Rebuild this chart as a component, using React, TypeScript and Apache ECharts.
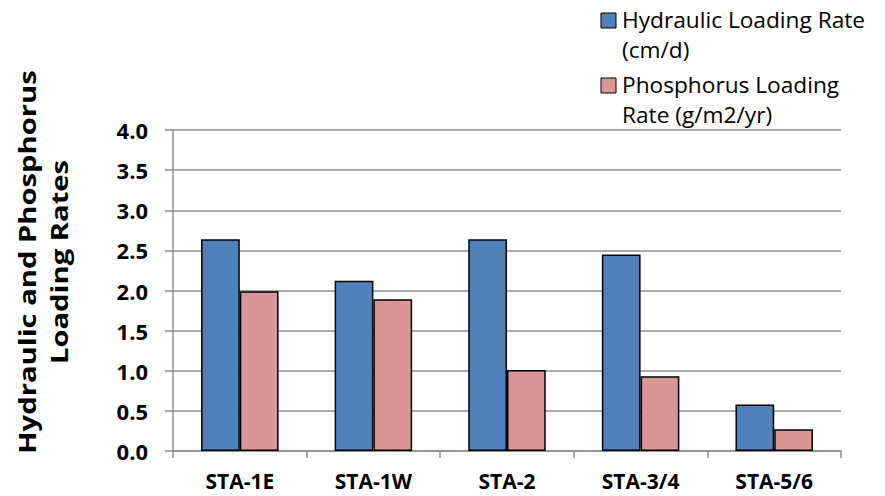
import React, { useEffect, useRef } from "react";
import * as echarts from "echarts";

const categories = ["STA-1E", "STA-1W", "STA-2", "STA-3/4", "STA-5/6"];
const hydraulic = [2.64, 2.12, 2.64, 2.45, 0.58];
const phosphorus = [1.99, 1.89, 1.01, 0.93, 0.27];
const seriesNames = ["Hydraulic Loading Rate\n(cm/d)", "Phosphorus Loading\nRate (g/m2/yr)"];
const yTitle = "Hydraulic and Phosphorus\nLoading Rates";

const BLUE = "#4F81BD";
const PINK = "#D99694";
const GRID = "#8c8c8c";
const FONT = "'Open Sans', sans-serif";

export default function App() {
  const ref = useRef<HTMLDivElement>(null);
  useEffect(() => {
    const chart = echarts.init(ref.current!, null, { renderer: "svg" });
    chart.setOption({
      animation: false,
      backgroundColor: "#ffffff",
      grid: { left: 173, right: 44, top: 130, bottom: 45, containLabel: false },
      xAxis: {
        type: "category",
        data: categories,
        axisLine: { show: true, lineStyle: { color: GRID, width: 1.5 } },
        axisTick: { show: true, length: 7, lineStyle: { color: GRID, width: 1.5 } },
        axisLabel: {
          margin: 22,
          color: "#000",
          fontFamily: FONT,
          fontWeight: "bold",
          fontSize: 21,
          lineHeight: 16,
          width: 120,
          overflow: "none",
        },
      },
      yAxis: {
        type: "value",
        min: 0,
        max: 4,
        interval: 0.5,
        axisLine: { show: true, lineStyle: { color: GRID, width: 1.5 } },
        axisTick: { show: true, length: 8, lineStyle: { color: GRID, width: 1.5 } },
        splitLine: { show: true, lineStyle: { color: GRID, width: 1.5 } },
        axisLabel: {
          margin: 25,
          color: "#000",
          fontFamily: FONT,
          fontWeight: "bold",
          fontSize: 22,
          formatter: (v: number) => v.toFixed(1),
        },
      },
      series: [
        {
          name: seriesNames[0],
          type: "bar",
          data: hydraulic,
          barGap: "0%",
          barCategoryGap: "42%",
          itemStyle: { color: BLUE, borderColor: "#000", borderWidth: 1.5 },
        },
        {
          name: seriesNames[1],
          type: "bar",
          data: phosphorus,
          barGap: "0%",
          barCategoryGap: "42%",
          itemStyle: { color: PINK, borderColor: "#000", borderWidth: 1.5 },
        },
      ],
      graphic: [
        {
          type: "text",
          x: 43,
          y: 262,
          rotation: Math.PI / 2,
          scaleX: 1.27,
          style: {
            text: yTitle,
            fontFamily: FONT,
            fontWeight: "bold",
            fontSize: 23,
            lineHeight: 32,
            align: "center",
            verticalAlign: "middle",
            fill: "#000",
          },
        },
        {
          type: "rect",
          shape: { x: 601, y: 13, width: 15, height: 15 },
          style: { fill: BLUE, stroke: "#000", lineWidth: 1 },
        },
        {
          type: "text",
          x: 622,
          y: 5,
          scaleX: 1.08,
          style: {
            text: seriesNames[0],
            fontFamily: FONT,
            fontSize: 21,
            lineHeight: 30,
            align: "left",
            verticalAlign: "top",
            fill: "#000",
          },
        },
        {
          type: "rect",
          shape: { x: 601, y: 78, width: 15, height: 15 },
          style: { fill: PINK, stroke: "#000", lineWidth: 1 },
        },
        {
          type: "text",
          x: 622,
          y: 70,
          scaleX: 1.08,
          style: {
            text: seriesNames[1],
            fontFamily: FONT,
            fontSize: 21,
            lineHeight: 30,
            align: "left",
            verticalAlign: "top",
            fill: "#000",
          },
        },
      ],
    });
    return () => chart.dispose();
  }, []);
  return <div ref={ref} style={{ width: 885, height: 496, position: "absolute", left: 0, top: 0 }} />;
}
